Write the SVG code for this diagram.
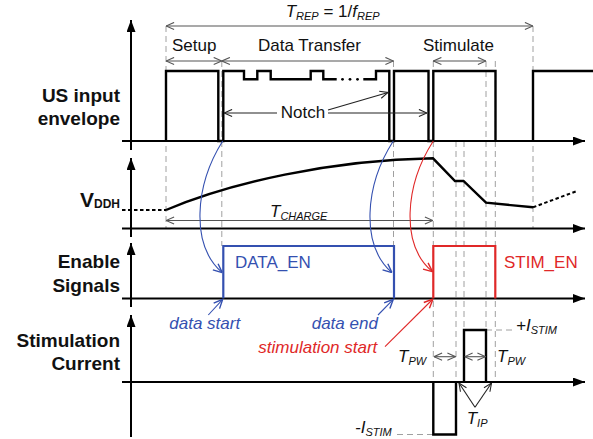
<svg xmlns="http://www.w3.org/2000/svg" width="593" height="439" viewBox="0 0 593 439">
<style>
text{font-family:"Liberation Sans",Arial,sans-serif;}
.lbl{font-size:19px;font-weight:bold;fill:#111;text-anchor:end;}
.t{font-size:17px;fill:#111;}
.it{font-size:17px;font-style:italic;fill:#111;}
.ax{stroke:#000;stroke-width:2;fill:none;}
.wave{stroke:#000;stroke-width:2.4;fill:none;stroke-linejoin:miter;}
.dash{stroke:#a0a0a0;stroke-width:1;stroke-dasharray:6,4;fill:none;}
.dim{stroke:#555;stroke-width:1.1;fill:none;marker-start:url(#g);marker-end:url(#g);}
.blue{fill:#3450B0;}
.red{fill:#E02828;}
</style>
<defs>
<marker id="ax" viewBox="0 0 12 9" refX="12" refY="4.5" markerWidth="12" markerHeight="9" markerUnits="userSpaceOnUse" orient="auto"><path d="M0,0 L12,4.5 L0,9 z" fill="#000"/></marker>
<marker id="g" viewBox="0 0 10 10" refX="10" refY="5" markerWidth="9" markerHeight="9" markerUnits="userSpaceOnUse" orient="auto-start-reverse"><path d="M1,1 L10,5 L1,9" fill="none" stroke="#555" stroke-width="1.2"/></marker>
<marker id="k" viewBox="0 0 10 10" refX="10" refY="5" markerWidth="9" markerHeight="9" markerUnits="userSpaceOnUse" orient="auto-start-reverse"><path d="M1,1 L10,5 L1,9" fill="none" stroke="#222" stroke-width="1.2"/></marker>
<marker id="b" viewBox="0 0 10 10" refX="10" refY="5" markerWidth="10" markerHeight="10" markerUnits="userSpaceOnUse" orient="auto"><path d="M1,1 L10,5 L1,9" fill="none" stroke="#3450B0" stroke-width="1.4"/></marker>
<marker id="r" viewBox="0 0 10 10" refX="10" refY="5" markerWidth="10" markerHeight="10" markerUnits="userSpaceOnUse" orient="auto"><path d="M1,1 L10,5 L1,9" fill="none" stroke="#E02828" stroke-width="1.4"/></marker>
</defs>

<g id="guides">
<line class="dash" x1="166" y1="26" x2="166" y2="228"/>
<line class="dash" x1="221.8" y1="61" x2="221.8" y2="246"/>
<line class="dash" x1="393.5" y1="61" x2="393.5" y2="246"/>
<line class="dash" x1="433.3" y1="61" x2="433.3" y2="382"/>
<line class="dash" x1="456" y1="141" x2="456" y2="382"/>
<line class="dash" x1="464" y1="141" x2="464" y2="330"/>
<line class="dash" x1="486" y1="61" x2="486" y2="330"/>
<line class="dash" x1="495.3" y1="61" x2="495.3" y2="382"/>
<line class="dash" x1="533" y1="26" x2="533" y2="228"/>
<line class="dash" x1="486" y1="330" x2="515" y2="330"/>
<line class="dash" x1="397" y1="434.5" x2="433" y2="434.5"/>
</g>

<g id="axes">
<line class="ax" x1="131" y1="150" x2="131" y2="20" marker-end="url(#ax)"/>
<line class="ax" x1="122" y1="141" x2="585" y2="141" marker-end="url(#ax)"/>
<line class="ax" x1="131" y1="237" x2="131" y2="158" marker-end="url(#ax)"/>
<line class="ax" x1="122" y1="228.5" x2="585" y2="228.5" marker-end="url(#ax)"/>
<line class="ax" x1="131" y1="307" x2="131" y2="243" marker-end="url(#ax)"/>
<line class="ax" x1="122" y1="298.5" x2="585" y2="298.5" marker-end="url(#ax)"/>
<line class="ax" x1="131" y1="437" x2="131" y2="315" marker-end="url(#ax)"/>
<line class="ax" x1="122" y1="382" x2="585" y2="382" marker-end="url(#ax)"/>
</g>

<g id="us-envelope">
<text class="lbl" x="120" y="101.7">US input</text>
<text class="lbl" x="120" y="125">envelope</text>
<path class="wave" d="M166,141 V71 H218.3 V141 H223.3 V71 H244 V79.3 H257.3 V71 H270.7 V79.3 H310.7 V71 H323.3 V79.3 H336.7 M363.3,79.3 H376 V71 H389.3 V141 H394 V71 H428.5 V141 H433.3 V71 H495.5 V141 M533,141 V71 H593"/>
<circle cx="342.5" cy="79.3" r="1.4"/><circle cx="350" cy="79.3" r="1.4"/><circle cx="357.5" cy="79.3" r="1.4"/>
</g>

<g id="timing-labels">
<text class="it" x="285.7" y="17.3">T<tspan font-size="11" dy="3">REP</tspan><tspan font-style="normal" dy="-3"> = 1/</tspan>f<tspan font-size="11" dy="3">REP</tspan></text>
<line class="dim" x1="166" y1="26" x2="533" y2="26"/>
<text class="t" x="172" y="50.5">Setup</text>
<text class="t" x="258" y="50.5">Data Transfer</text>
<text class="t" x="423" y="50.5">Stimulate</text>
<line class="dim" x1="166" y1="61" x2="221.8" y2="61"/>
<line class="dim" x1="221.8" y1="61" x2="393.5" y2="61"/>
<line class="dim" x1="433.3" y1="61" x2="486" y2="61"/>
</g>

<g id="notch">
<text class="t" x="303" y="118.3" text-anchor="middle">Notch</text>
<g stroke="#222" stroke-width="1.1" fill="none">
<line x1="277" y1="113" x2="224" y2="113" marker-end="url(#k)"/>
<line x1="328" y1="113" x2="427" y2="113" marker-end="url(#k)"/>
<line x1="328" y1="110" x2="388" y2="92.5" marker-end="url(#k)"/>
</g>
</g>

<g id="vddh">
<text class="lbl" x="120" y="206.7"><tspan font-size="21">V</tspan><tspan font-size="12" dy="1">DDH</tspan></text>
<path d="M122,210 H166" stroke="#000" stroke-width="2" stroke-dasharray="3.5,2.5" fill="none"/>
<path class="wave" d="M166,210 C230,183 330,160 433,158.3 L455,181 L463.5,181 L486,202.7 L533,207.3"/>
<path d="M533,207.3 L577,191" stroke="#000" stroke-width="2" stroke-dasharray="3.5,2.5" fill="none"/>
<text class="it" x="270" y="217.3">T<tspan font-size="11" dy="3">CHARGE</tspan></text>
<line class="dim" x1="166" y1="220.5" x2="433" y2="220.5"/>
</g>

<g id="enable">
<text class="lbl" x="120" y="268.3">Enable</text>
<text class="lbl" x="120" y="291.7">Signals</text>
<path d="M223.3,298.5 V246 H394 V298.5" stroke="#3450B0" stroke-width="2.2" fill="none"/>
<text class="t blue" x="235" y="267.7">DATA_EN</text>
<path d="M433.3,298.5 V246 H495.3 V298.5" stroke="#E02828" stroke-width="2.2" fill="none"/>
<text class="t red" x="504" y="267.7">STIM_EN</text>
</g>

<g id="stim-current">
<text class="lbl" x="120" y="347.3">Stimulation</text>
<text class="lbl" x="120" y="370">Current</text>
<path class="wave" d="M433.3,382 V434.5 H456 V382 M464,382 V330 H486 V382"/>
<text class="it" x="516" y="331">+I<tspan font-size="11" dy="3">STIM</tspan></text>
<text class="it" x="355" y="433">-I<tspan font-size="11" dy="3">STIM</tspan></text>
<text class="it" x="398" y="361.7">T<tspan font-size="11" dy="3">PW</tspan></text>
<text class="it" x="497" y="361.7">T<tspan font-size="11" dy="3">PW</tspan></text>
<line class="dim" x1="434" y1="356.7" x2="455.5" y2="356.7"/>
<line class="dim" x1="464.5" y1="356.7" x2="485.5" y2="356.7"/>
<text class="it" x="466.7" y="424">T<tspan font-size="11" dy="3">IP</tspan></text>
<g stroke="#222" stroke-width="1.1" fill="none">
<line x1="475" y1="407.3" x2="459" y2="383" marker-end="url(#k)"/>
<line x1="475" y1="407.3" x2="491.5" y2="383" marker-end="url(#k)"/>
</g>
</g>

<g id="connectors" fill="none" stroke-width="1.1">
<path d="M222.7,141 C195,185 190,245 222.3,272.7" stroke="#3450B0" marker-end="url(#b)"/>
<path d="M393.3,141 C365,185 360,245 392,272.7" stroke="#3450B0" marker-end="url(#b)"/>
<path d="M433.3,141 C405,185 400,245 432.5,271.7" stroke="#E02828" marker-end="url(#r)"/>
<line x1="208.3" y1="315" x2="222.7" y2="299.3" stroke="#3450B0" marker-end="url(#b)"/>
<line x1="378" y1="315" x2="393.3" y2="299.3" stroke="#3450B0" marker-end="url(#b)"/>
<line x1="385" y1="346.7" x2="433" y2="299" stroke="#E02828" marker-end="url(#r)"/>
</g>

<g id="event-labels">
<text class="it blue" x="169.3" y="329.3">data start</text>
<text class="it blue" x="311.7" y="329.3">data end</text>
<text class="it red" x="258.3" y="353.3">stimulation start</text>
</g>
</svg>
